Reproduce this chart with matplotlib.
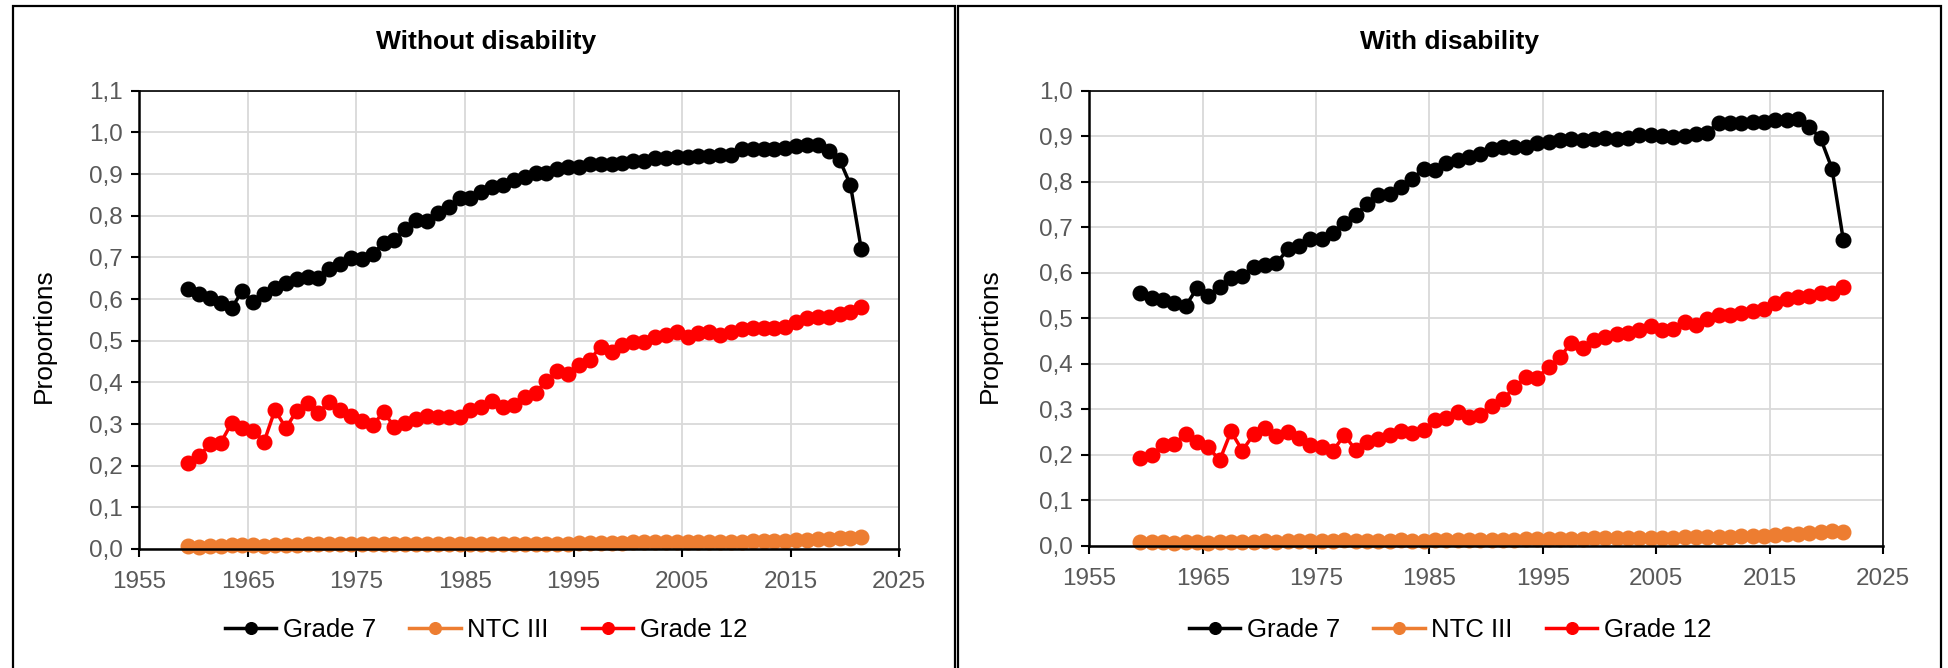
import numpy as np
import matplotlib
matplotlib.use('Agg')
import matplotlib.pyplot as plt
from matplotlib.ticker import FuncFormatter, MultipleLocator
from matplotlib.patches import Rectangle

plt.rcParams['font.family'] = ['Liberation Sans', 'DejaVu Sans']

# cohort mid-years
years = np.arange(1959.5, 2022.0, 1.0)

# Without disability
g7_wo = [0.625, 0.612, 0.603, 0.590, 0.578, 0.620, 0.592, 0.612, 0.626, 0.638,
         0.647, 0.652, 0.650, 0.673, 0.684, 0.698, 0.695, 0.708, 0.734, 0.742,
         0.768, 0.790, 0.787, 0.806, 0.821, 0.842, 0.842, 0.858, 0.868, 0.873,
         0.886, 0.893, 0.903, 0.903, 0.911, 0.917, 0.916, 0.924, 0.924, 0.924,
         0.927, 0.932, 0.932, 0.938, 0.938, 0.941, 0.941, 0.943, 0.943, 0.945,
         0.945, 0.960, 0.959, 0.960, 0.960, 0.962, 0.967, 0.970, 0.970, 0.956,
         0.934, 0.874, 0.719]
ntc_wo = [0.008, 0.006, 0.007, 0.008, 0.010, 0.010, 0.009, 0.008, 0.010, 0.009,
          0.010, 0.011, 0.012, 0.011, 0.012, 0.013, 0.012, 0.011, 0.011, 0.013,
          0.011, 0.011, 0.011, 0.012, 0.011, 0.011, 0.011, 0.011, 0.012, 0.012,
          0.012, 0.012, 0.012, 0.013, 0.013, 0.013, 0.014, 0.014, 0.015, 0.015,
          0.015, 0.016, 0.016, 0.016, 0.017, 0.017, 0.017, 0.017, 0.018, 0.018,
          0.018, 0.018, 0.019, 0.019, 0.019, 0.020, 0.021, 0.022, 0.023, 0.024,
          0.026, 0.027, 0.028]
g12_wo = [0.206, 0.223, 0.251, 0.255, 0.302, 0.290, 0.284, 0.258, 0.334, 0.290,
          0.332, 0.350, 0.326, 0.354, 0.334, 0.320, 0.308, 0.298, 0.328, 0.294,
          0.303, 0.311, 0.319, 0.316, 0.318, 0.316, 0.334, 0.340, 0.355, 0.340,
          0.345, 0.366, 0.375, 0.403, 0.427, 0.419, 0.442, 0.454, 0.486, 0.474,
          0.490, 0.496, 0.497, 0.510, 0.514, 0.520, 0.510, 0.518, 0.522, 0.514,
          0.520, 0.528, 0.530, 0.530, 0.531, 0.534, 0.546, 0.554, 0.557, 0.556,
          0.564, 0.570, 0.580]

# With disability
g7_w = [0.555, 0.544, 0.540, 0.534, 0.527, 0.566, 0.549, 0.569, 0.588, 0.593,
        0.613, 0.617, 0.621, 0.651, 0.659, 0.673, 0.673, 0.688, 0.710, 0.727,
        0.751, 0.771, 0.773, 0.789, 0.806, 0.829, 0.826, 0.842, 0.848, 0.854,
        0.861, 0.871, 0.876, 0.876, 0.876, 0.886, 0.888, 0.892, 0.893, 0.892,
        0.893, 0.895, 0.893, 0.897, 0.903, 0.903, 0.900, 0.899, 0.900, 0.905,
        0.908, 0.930, 0.930, 0.930, 0.931, 0.932, 0.936, 0.936, 0.937, 0.921,
        0.895, 0.829, 0.672]
ntc_w = [0.008, 0.008, 0.008, 0.007, 0.009, 0.008, 0.007, 0.008, 0.009, 0.008,
         0.009, 0.010, 0.009, 0.010, 0.011, 0.010, 0.010, 0.011, 0.012, 0.010,
         0.011, 0.011, 0.011, 0.012, 0.011, 0.011, 0.012, 0.012, 0.012, 0.012,
         0.012, 0.012, 0.013, 0.013, 0.014, 0.014, 0.014, 0.015, 0.015, 0.015,
         0.016, 0.016, 0.017, 0.017, 0.017, 0.018, 0.018, 0.018, 0.019, 0.019,
         0.019, 0.020, 0.020, 0.021, 0.021, 0.022, 0.024, 0.025, 0.026, 0.028,
         0.030, 0.032, 0.031]
g12_w = [0.192, 0.199, 0.221, 0.224, 0.245, 0.229, 0.216, 0.188, 0.251, 0.209,
         0.245, 0.258, 0.241, 0.249, 0.236, 0.221, 0.218, 0.209, 0.243, 0.210,
         0.227, 0.234, 0.243, 0.251, 0.247, 0.254, 0.276, 0.280, 0.293, 0.282,
         0.287, 0.307, 0.322, 0.348, 0.370, 0.368, 0.393, 0.414, 0.446, 0.434,
         0.451, 0.459, 0.465, 0.468, 0.473, 0.483, 0.473, 0.476, 0.492, 0.485,
         0.498, 0.507, 0.507, 0.512, 0.516, 0.520, 0.533, 0.542, 0.546, 0.549,
         0.555, 0.555, 0.569]

labels = ['Grade 7', 'NTC III', 'Grade 12']
colors = ['#000000', '#ED7D31', '#FF0000']
xticks = np.arange(1955, 2026, 10)

W, H = 1948, 668
fig = plt.figure(figsize=(W / 100, H / 100), dpi=100)

# panel frames (pixels: left, right)
for x0, x1 in [(13, 955), (958, 1941)]:
    fig.patches.append(Rectangle((x0 / W, -0.05), (x1 - x0) / W, 1.05 - 6 / H,
                                 transform=fig.transFigure, fill=False,
                                 edgecolor='black', linewidth=1.6))

comma = FuncFormatter(lambda v, p: ('%.1f' % v).replace('.', ','))

# title, axes box in px (left, right, top, bottom), ymax, series, panel centre, ylabel x
panels = [
    ('Without disability', [139.3, 899.3, 90.7, 549.0], 1.1, [g7_wo, ntc_wo, g12_wo], 486, 56),
    ('With disability', [1089.3, 1883.0, 90.7, 545.7], 1.0, [g7_w, ntc_w, g12_w], 1450, 1002),
]

for title, (l, r, t, b), ymax, series, cx, ylx in panels:
    ax = fig.add_axes([l / W, 1 - b / H, (r - l) / W, (b - t) / H])
    for vals, lab, c in zip(series, labels, colors):
        ax.plot(years, vals, color=c, lw=2.5, marker='o', ms=10.5, label=lab,
                clip_on=False)
    ax.set_xlim(1955, 2025)
    ax.set_ylim(0, ymax)
    ax.set_xticks(xticks)
    ax.yaxis.set_major_locator(MultipleLocator(0.1))
    ax.yaxis.set_major_formatter(comma)
    ax.grid(True, color='#d9d9d9', lw=1.3)
    ax.set_axisbelow(True)
    for s in ['left', 'bottom']:
        ax.spines[s].set_linewidth(1.8)
    for s in ['top', 'right']:
        ax.spines[s].set_linewidth(1.2)
    ax.tick_params(axis='both', direction='out', length=6, width=1.5,
                   labelsize=17.5, labelcolor='#595959')
    ax.tick_params(axis='y', pad=6)
    ax.tick_params(axis='x', pad=10)
    ax.set_ylabel('Proportions', fontsize=19)
    ax.yaxis.set_label_coords((ylx - l) / (r - l), (b - 336) / (b - t))
    fig.text(cx / W, 1 - 42 / H, title, ha='center', va='center',
             fontsize=19, fontweight='bold')
    ax.legend(loc='center', bbox_to_anchor=((cx - l) / (r - l), (b - 630) / (b - t)),
              ncol=3, frameon=False, fontsize=18.5, handlelength=2.0,
              handletextpad=0.25, columnspacing=1.3, markerscale=0.8)

fig.savefig('out.png', dpi=100)
